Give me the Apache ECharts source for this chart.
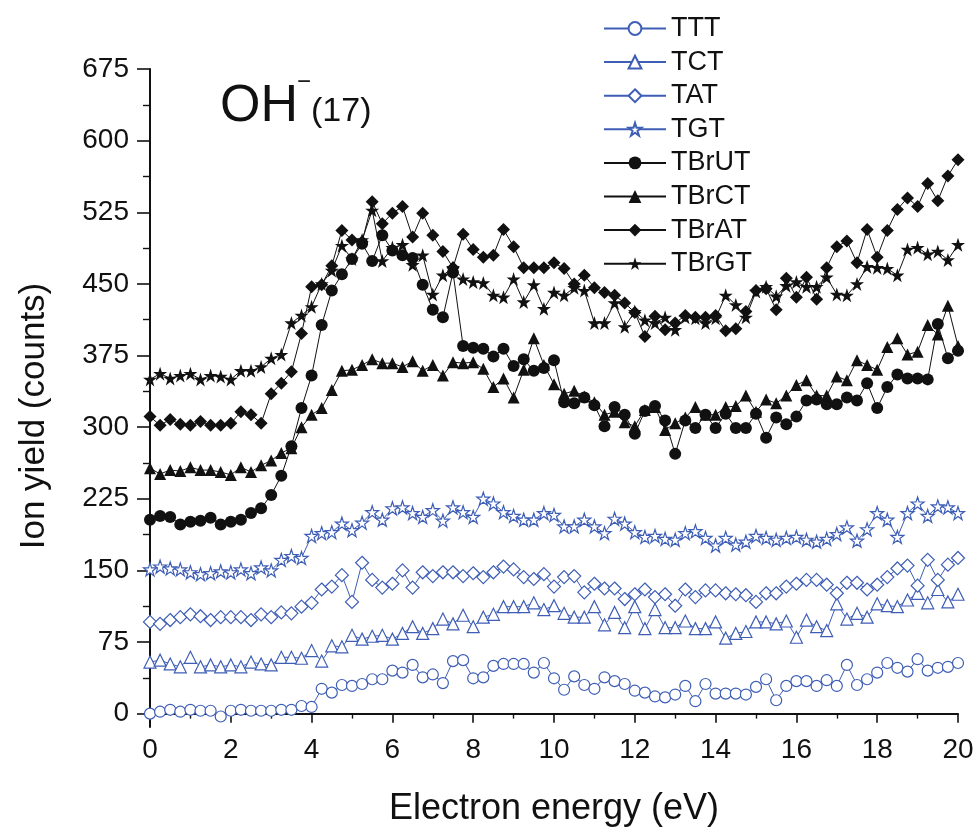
<!DOCTYPE html>
<html><head><meta charset="utf-8">
<script src="https://cdn.jsdelivr.net/npm/echarts@6/dist/echarts.min.js"></script>
<style>html,body{margin:0;padding:0;background:#fff}#c{width:980px;height:840px}</style>
</head><body><div id="c"></div>
<script>
// Electron energy grid (eV)
const energy = [0,0.25,0.5,0.75,1,1.25,1.5,1.75,2,2.25,2.5,2.75,3,3.25,3.5,3.75,4,4.25,4.5,4.75,
5,5.25,5.5,5.75,6,6.25,6.5,6.75,7,7.25,7.5,7.75,8,8.25,8.5,8.75,9,9.25,9.5,9.75,
10,10.25,10.5,10.75,11,11.25,11.5,11.75,12,12.25,12.5,12.75,13,13.25,13.5,13.75,14,14.25,14.5,14.75,
15,15.25,15.5,15.75,16,16.25,16.5,16.75,17,17.25,17.5,17.75,18,18.25,18.5,18.75,19,19.25,19.5,19.75,20];

const TTT = [0,2,4,2,4,3,3,-3,3,4, 3,3,3,4,4,8,7,26,22,30, 29,31,36,36,45,43,51,38,41,32, 55,56,37,38,50,52,52,52,43,53,
37,25,39,30,26,38,34,31,24,22, 18,17,20,29,13,31,21,21,21,20, 28,36,14,29,34,34,29,35,29,51, 30,36,43,53,48,44,57,45,48,49, 53];
const TCT = [54,56,52,49,59,49,51,49,51,49, 54,52,51,59,59,58,66,55,71,70, 82,78,81,82,78,84,91,84,89,99, 94,103,91,101,104,112,112,112,116,109,
113,105,101,101,112,93,106,90,112,89, 109,90,90,97,89,89,96,79,84,86, 96,96,94,97,80,98,91,87,115,99, 105,101,115,113,112,119,126,116,130,117, 125];
const TAT = [96,94,98,101,104,102,98,101,101,101, 98,104,101,106,105,112,116,130,133,145, 117,158,140,132,136,150,132,148,144,148, 148,144,147,143,148,154,151,143,141,146,
133,143,144,127,136,131,131,120,125,130, 122,125,113,130,122,129,129,126,125,124, 117,126,126,133,136,140,140,135,126,137, 137,130,135,143,152,155,134,161,140,156, 163];
const TGT = [151,154,152,151,148,146,147,149,148,151, 147,153,150,161,165,163,186,189,190,199, 192,200,211,203,215,216,210,206,213,202, 216,211,206,225,220,211,207,203,203,210,
208,196,196,203,196,189,204,199,190,185, 186,183,182,189,191,184,176,184,177,180, 186,184,182,184,185,182,180,183,188,195, 181,193,210,203,185,210,220,207,217,216, 210];
const TBrUT = [203,207,206,198,201,202,205,198,201,203, 210,215,229,249,280,320,354,407,443,460, 476,492,474,501,485,480,477,449,423,415, 462,385,383,382,374,382,364,371,359,362,
370,326,325,331,323,301,321,313,293,317, 322,307,272,307,299,313,299,314,299,299, 314,289,310,303,311,328,329,324,324,331, 328,346,320,342,355,351,351,350,408,372, 380];
const TBrCT = [257,251,255,254,258,255,255,253,250,258, 253,260,265,273,278,300,313,320,339,359, 360,365,371,367,367,363,369,359,365,354, 368,367,368,361,342,351,331,360,393,365,
345,335,338,332,326,313,316,305,301,318, 321,297,304,310,321,313,313,321,322,333, 316,329,325,333,344,349,333,333,353,349, 370,365,360,384,393,376,379,407,397,427, 385];
const TBrAT = [311,302,308,303,302,306,302,302,304,316, 313,304,335,346,358,398,447,449,469,506, 496,494,536,513,524,531,499,524,501,484, 467,502,486,478,480,507,489,467,467,467,
472,466,450,459,446,441,438,430,420,395, 416,402,409,417,415,415,417,401,403,421, 443,445,423,456,436,457,434,467,489,495, 472,507,478,506,528,540,531,555,537,563, 580];
const TBrGT = [350,356,351,354,356,350,354,353,350,359, 359,363,372,376,409,417,426,450,464,490, 476,496,527,474,488,491,470,480,439,459, 467,455,452,451,438,436,455,431,449,424,
441,438,446,443,409,409,430,405,421,412, 409,415,402,415,414,409,414,438,428,415, 442,447,437,448,452,447,447,457,439,438, 450,468,467,466,459,486,488,481,484,475, 491];

const yTickLabels = [0,75,150,225,300,375,450,525,600,675];
const yMinorTicks = [37.5,112.5,187.5,262.5,337.5,412.5,487.5,562.5,637.5];
const seriesNames = ['TTT','TCT','TAT','TGT','TBrUT','TBrCT','TBrAT','TBrGT'];

const BLUE = '#3e5eb6';
const INK = '#111';
const FONT = '"Liberation Sans", Arial, Helvetica, sans-serif';
const STAR = 'path://M50,0L61.8,35.3L99,35.3L69,57.1L80.4,92.7L50,70.8L19.6,92.7L31,57.1L1,35.3L38.2,35.3Z';

function pairs(arr){ return energy.map((e,i)=>[e, arr[i]]); }
function blueSeries(name, arr, symbol, size){
  return {name, type:'line', data:pairs(arr), symbol, symbolSize:size, showSymbol:true, showAllSymbol:true,
    lineStyle:{color:BLUE, width:1}, itemStyle:{color:'#fff', borderColor:BLUE, borderWidth:1.2},
    emphasis:{disabled:true}, animation:false, z:3};
}
function blackSeries(name, arr, symbol, size){
  return {name, type:'line', data:pairs(arr), symbol, symbolSize:size, showSymbol:true, showAllSymbol:true,
    lineStyle:{color:INK, width:1}, itemStyle:{color:INK, borderWidth:0},
    emphasis:{disabled:true}, animation:false, z:3};
}

const chart = echarts.init(document.getElementById('c'), null, {renderer:'canvas'});
chart.setOption({
  backgroundColor:'#fff',
  animation:false,
  textStyle:{fontFamily:FONT},
  grid:{left:150, top:69, width:808, bottom:113, containLabel:false},
  legend:{
    orient:'vertical', left:598, top:10, itemWidth:62, itemHeight:16, itemGap:6.6,
    data:seriesNames, selectedMode:false,
    textStyle:{fontFamily:FONT, fontSize:27, color:INK, lineHeight:27}
  },
  xAxis:{
    type:'value', min:0, max:20, interval:2,
    name:'Electron energy (eV)', nameLocation:'middle', nameGap:64,
    nameTextStyle:{fontFamily:FONT, fontSize:36, color:INK},
    axisLine:{lineStyle:{color:INK, width:2}},
    axisTick:{inside:false, length:9, lineStyle:{color:INK, width:1.6}},
    minorTick:{show:true, splitNumber:2, length:5, lineStyle:{color:INK, width:1.4}},
    axisLabel:{fontFamily:FONT, fontSize:28, color:INK, margin:9},
    splitLine:{show:false}
  },
  yAxis:[{
    type:'value', min:-14, max:675,
    name:'Ion yield (counts)', nameLocation:'middle', nameGap:98,
    nameTextStyle:{fontFamily:FONT, fontSize:35, color:INK, padding:[0,36,0,0]},
    axisLine:{show:true, lineStyle:{color:INK, width:2}},
    axisTick:{show:true, inside:false, length:13, customValues:yTickLabels, lineStyle:{color:INK, width:1.6}},
    axisLabel:{fontFamily:FONT, fontSize:28, color:INK, margin:21, customValues:yTickLabels},
    splitLine:{show:false}
  },{
    type:'value', min:-14, max:675, position:'left',
    axisLine:{show:false},
    axisTick:{show:true, inside:false, length:7, customValues:yMinorTicks, lineStyle:{color:INK, width:1.4}},
    axisLabel:{show:false, customValues:yMinorTicks},
    splitLine:{show:false}
  }],
  graphic:[
    {type:'text', left:220, top:81, style:{text:'OH', font:'52px "Liberation Sans", Arial, sans-serif', fill:INK}},
    {type:'text', left:297, top:70, style:{text:'\u2212', font:'24px "Liberation Sans", Arial, sans-serif', fill:INK}},
    {type:'text', left:311, top:95, style:{text:'(17)', font:'34px "Liberation Sans", Arial, sans-serif', fill:INK}}
  ],
  series:[
    blueSeries('TTT', TTT, 'circle', 11),
    blueSeries('TCT', TCT, 'triangle', 12),
    blueSeries('TAT', TAT, 'diamond', 13),
    blueSeries('TGT', TGT, STAR, 13),
    blackSeries('TBrUT', TBrUT, 'circle', 12),
    blackSeries('TBrCT', TBrCT, 'triangle', 12),
    blackSeries('TBrAT', TBrAT, 'diamond', 13),
    blackSeries('TBrGT', TBrGT, STAR, 14)
  ]
});
</script></body></html>
